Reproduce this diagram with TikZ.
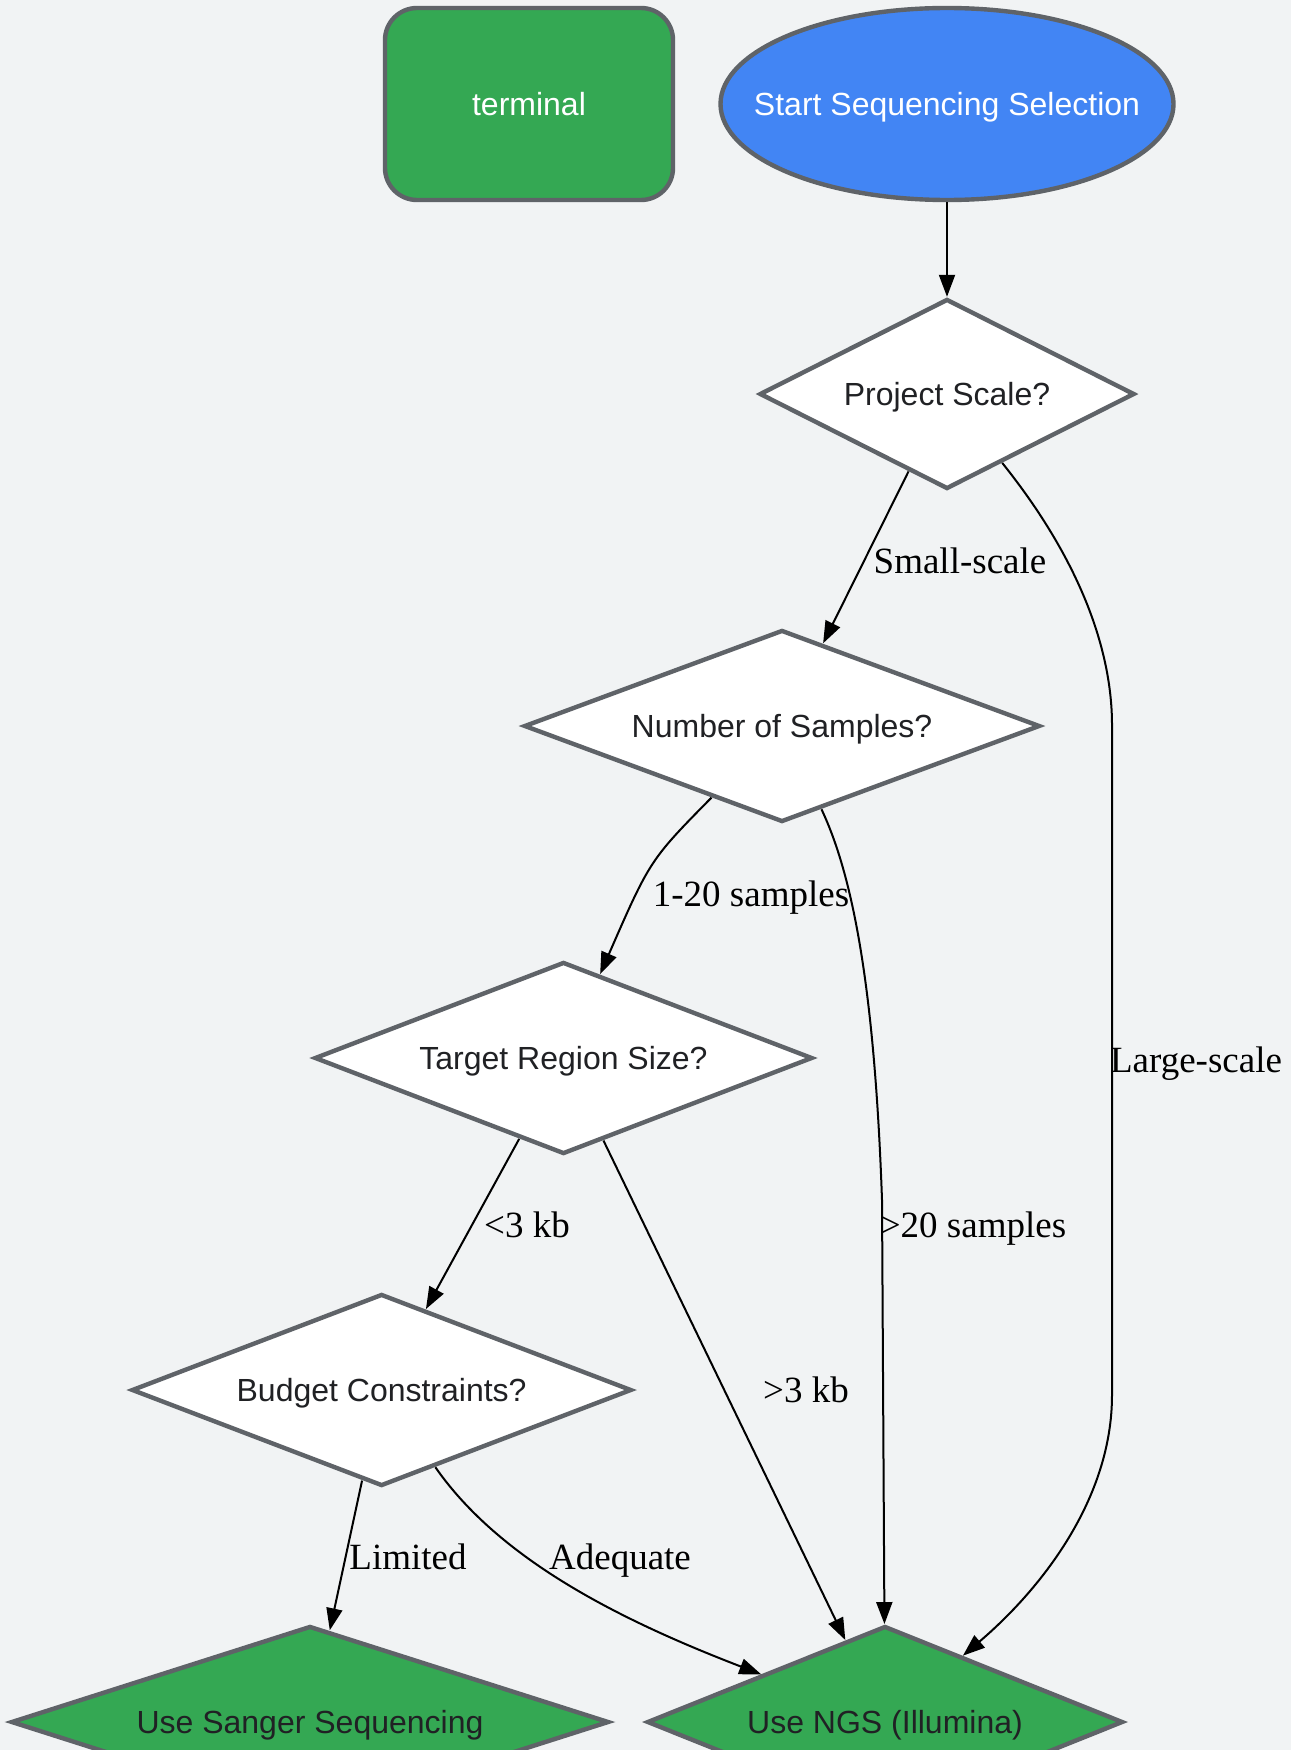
\documentclass[tikz,border=0pt]{standalone}
\usepackage{fontspec}
\setmainfont{Liberation Serif}
\newfontfamily\boxfont{Liberation Sans}
\usetikzlibrary{arrows.meta,shapes.geometric}
\definecolor{bggray}{HTML}{F1F3F4}
\definecolor{okgreen}{HTML}{34A853}
\definecolor{startblue}{HTML}{4285F4}
\definecolor{rimgray}{HTML}{5F6368}
\definecolor{inkgray}{HTML}{202124}

\begin{document}
\begin{tikzpicture}[x=0.5pt,y=-0.5pt,>={Triangle[length=11pt,width=8pt]},
                box/.style={draw=rimgray,line width=2.2pt,inner sep=0pt,text height=11.5pt,text depth=0pt,font=\boxfont\fontsize{16}{19}\selectfont},
                choice/.style={box,diamond,aspect=2.6,fill=white,text=inkgray,minimum height=96pt},
                finish/.style={choice,fill=okgreen},
                lbl/.style={inner sep=0pt,text height=12.6pt,text depth=0pt,font=\fontsize{18.5}{22}\selectfont},
                link/.style={->,line width=1pt}]
                \useasboundingbox (0,0) rectangle (1291,1750);
                \fill[bggray] (0,0) rectangle (1291,1750);
                \node[box,fill=okgreen,text=white,rounded corners=16pt,minimum width=144pt,minimum height=96pt] (term) at (529,104) {terminal};
                \node[box,ellipse,fill=startblue,text=white,minimum width=226.5pt,minimum height=96pt] (start) at (947,104) {\makebox[0pt]{Start Sequencing Selection}};
                \node[choice,minimum width=187.5pt,minimum height=95pt] (scale) at (947,394) {Project Scale?};
                \node[choice,minimum width=258pt] (samples) at (782,726) {Number of Samples?};
                \node[choice,minimum width=249pt] (region) at (563.5,1058) {Target Region Size?};
                \node[choice,minimum width=250pt] (budget) at (381.6,1390) {Budget Constraints?};
                \node[finish,minimum width=299pt] (sanger) at (310,1722) {Use Sanger Sequencing};
                \node[finish,minimum width=238pt] (ngs) at (885,1722) {Use NGS (Illumina)};
                \draw[link] (start) -- (scale);
                \draw[link] (scale) -- (samples);
                \draw[link] (scale) .. controls (1080,560) and (1112,650) .. (1112,725) -- (1112,1395) .. controls (1112,1500) and (1040,1590) .. (ngs);
                \draw[link] (samples) .. controls (650,860) .. (region);
                \draw[link] (samples) .. controls (855,880) and (875,1000) .. (882,1200) -- (ngs);
                \draw[link] (region) -- (budget);
                \draw[link] (region) -- (ngs);
                \draw[link] (budget) -- (sanger);
                \draw[link] (budget) .. controls (500,1560) and (620,1620) .. (ngs);
                \node[lbl] (smalllbl) at (960,561) {Small-scale};
                \node[lbl] (largelbl) at (1196,1060) {Large-scale};
                \node[lbl] (fewlbl) at (751,894) {1-20 samples};
                \node[lbl] (manylbl) at (973,1225) {>20 samples};
                \node[lbl] (shortlbl) at (527,1225) {<3 kb};
                \node[lbl] (longlbl) at (806,1390) {>3 kb};
                \node[lbl] (limitlbl) at (408,1557) {Limited};
                \node[lbl] (enoughlbl) at (620,1557) {Adequate};
            \end{tikzpicture}
\end{document}
